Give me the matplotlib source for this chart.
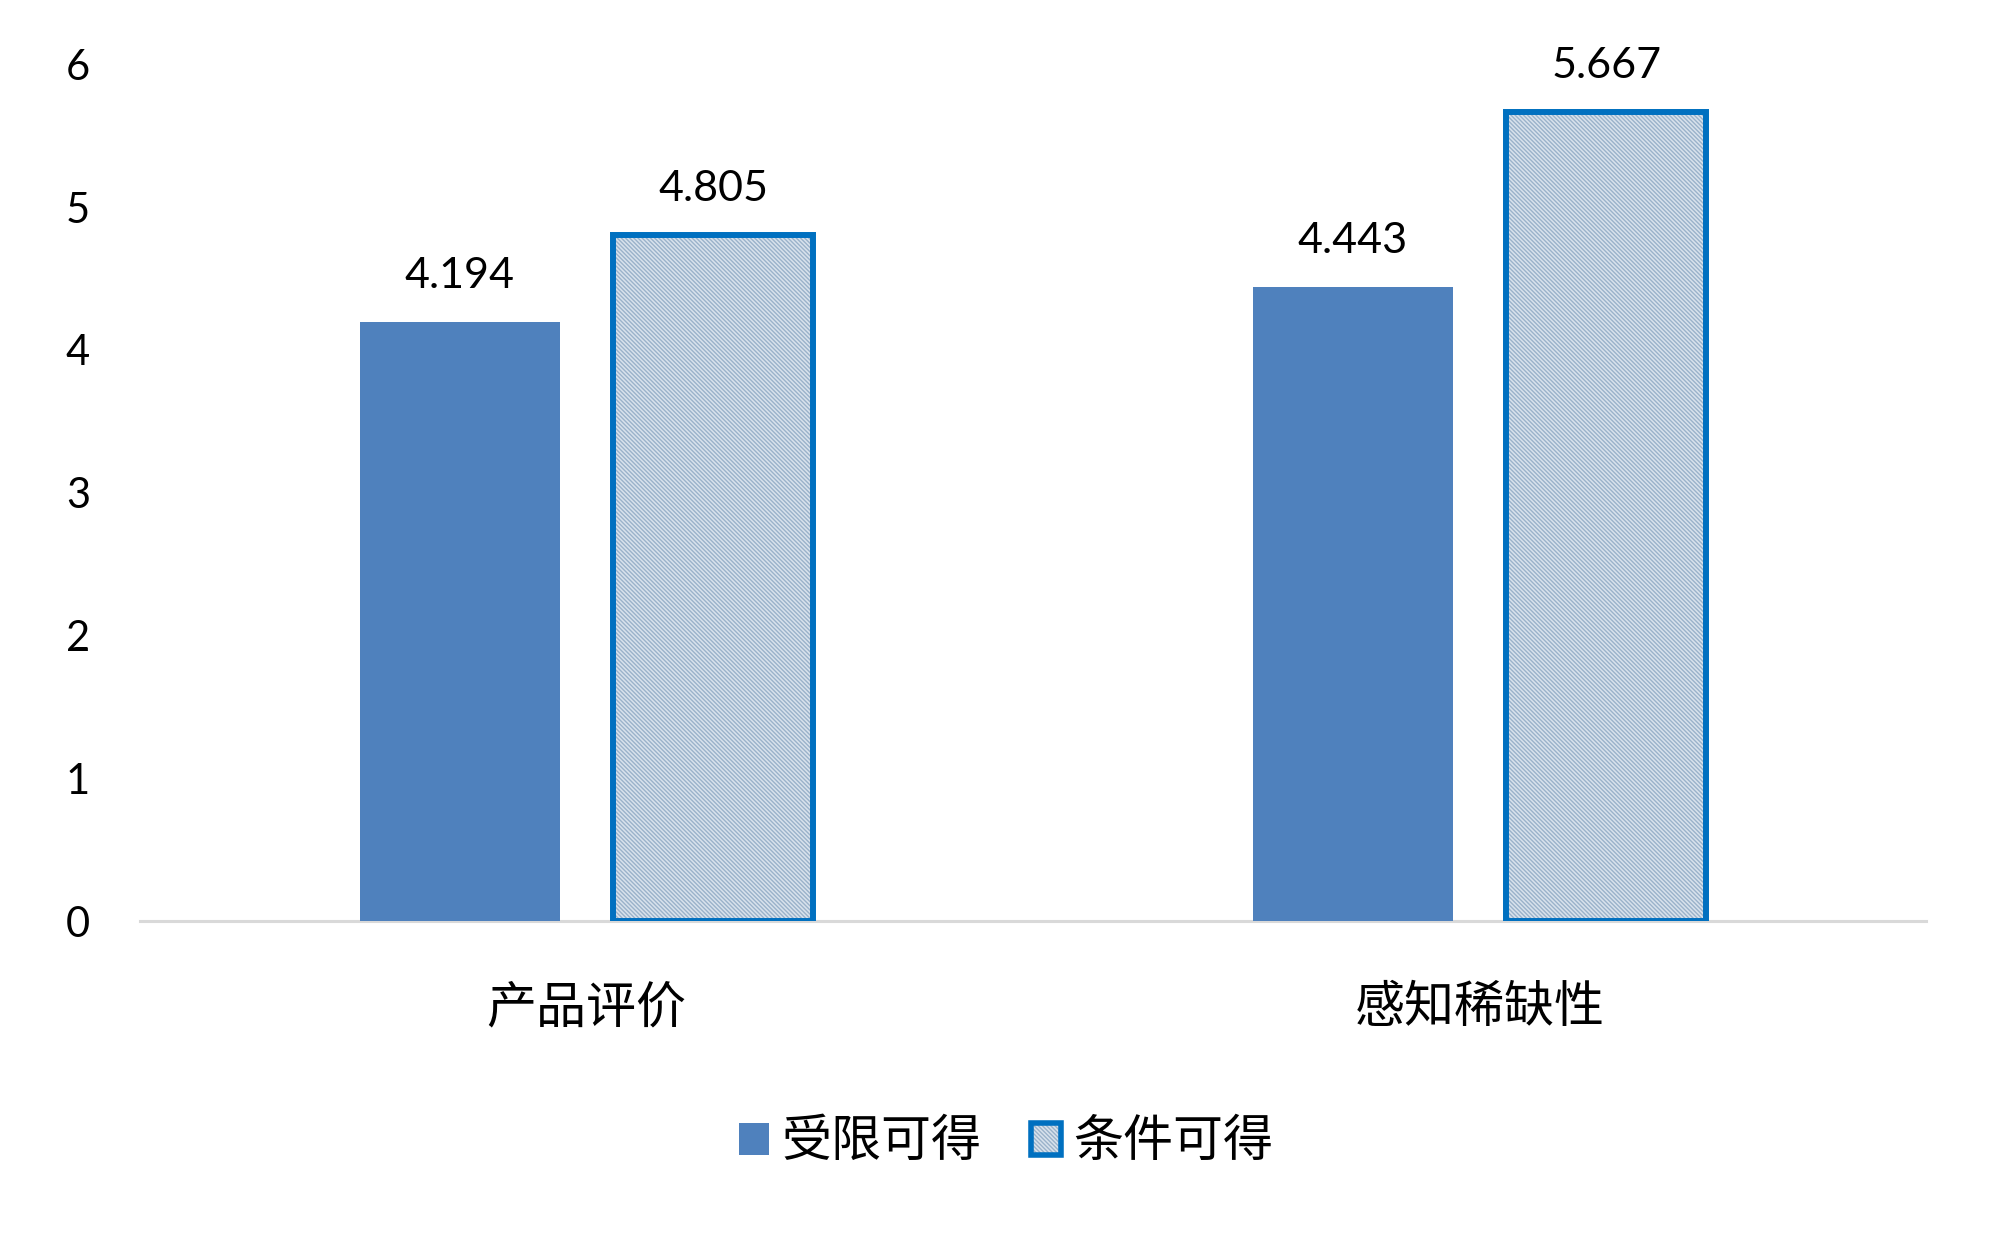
import numpy as np
import matplotlib
matplotlib.use("Agg")
import matplotlib.pyplot as plt
from matplotlib.patches import Patch
from matplotlib.legend_handler import HandlerTuple

categories = ["产品评价", "感知稀缺性"]
series_names = ["受限可得", "条件可得"]
limited = [4.194, 4.443]
conditional = [4.805, 5.667]
yticks = [0, 1, 2, 3, 4, 5, 6]

plt.rcParams['font.family'] = ['Lato', 'Noto Sans CJK SC', 'DejaVu Sans']
plt.rcParams['hatch.linewidth'] = 1.0

blue = '#4f81bd'
edge_blue = '#0070c0'
hatch_face = '#d8e2ec'
hatch_col = '#9ab2ca'

fig = plt.figure(figsize=(20, 12.35), dpi=100)
ax = fig.add_axes([0.07, 0.254, 0.893, 0.694])

x = np.arange(len(categories))
off = 0.142
w = 0.224

ax.bar(x - off, limited, w, color=blue, zorder=2)
ax.bar(x + off, conditional, w, color=hatch_face, hatch='\\\\\\\\\\\\\\\\',
       edgecolor=hatch_col, linewidth=0, zorder=2)
ax.bar(x + off, conditional, w, fill=False, edgecolor=edge_blue,
       linewidth=4.3, zorder=3)

for xi, v in zip(x - off, limited):
    ax.annotate(f"{v:.3f}", (xi, v), xytext=(0, 33), textcoords='offset points',
                ha='center', va='center', fontsize=31, family='Lato')
for xi, v in zip(x + off, conditional):
    ax.annotate(f"{v:.3f}", (xi, v), xytext=(0, 33), textcoords='offset points',
                ha='center', va='center', fontsize=31, family='Lato')

ax.set_xlim(-0.5, 1.5)
ax.set_ylim(0, 6)
ax.set_yticks(yticks)
ax.set_yticklabels([str(t) for t in yticks], fontsize=30, family='Lato')
ax.set_xticks(x)
ax.set_xticklabels(categories, fontsize=36, family=['Noto Sans CJK SC', 'DejaVu Sans'])
ax.tick_params(axis='y', length=0, pad=36)
ax.tick_params(axis='x', length=0, pad=44)

for s in ['top', 'right', 'left']:
    ax.spines[s].set_visible(False)
ax.spines['bottom'].set_color('#d9d9d9')
ax.spines['bottom'].set_linewidth(2.2)
ax.spines['bottom'].set_zorder(1)

h1 = Patch(facecolor=blue)
h2a = Patch(facecolor=hatch_face, hatch='\\\\\\\\\\\\\\\\', edgecolor=hatch_col, linewidth=0)
h2b = Patch(fill=False, edgecolor=edge_blue, linewidth=4)
fig.legend([h1, (h2a, h2b)], series_names, loc='center', bbox_to_anchor=(0.503, 0.075),
           ncol=2, frameon=False, handler_map={tuple: HandlerTuple(ndivide=1)},
           handlelength=0.6, handleheight=0.6, handletextpad=0.25, columnspacing=1.0,
           prop={'family': ['Noto Sans CJK SC', 'DejaVu Sans'], 'size': 36})

fig.savefig("out.png", dpi=100, facecolor='white')
